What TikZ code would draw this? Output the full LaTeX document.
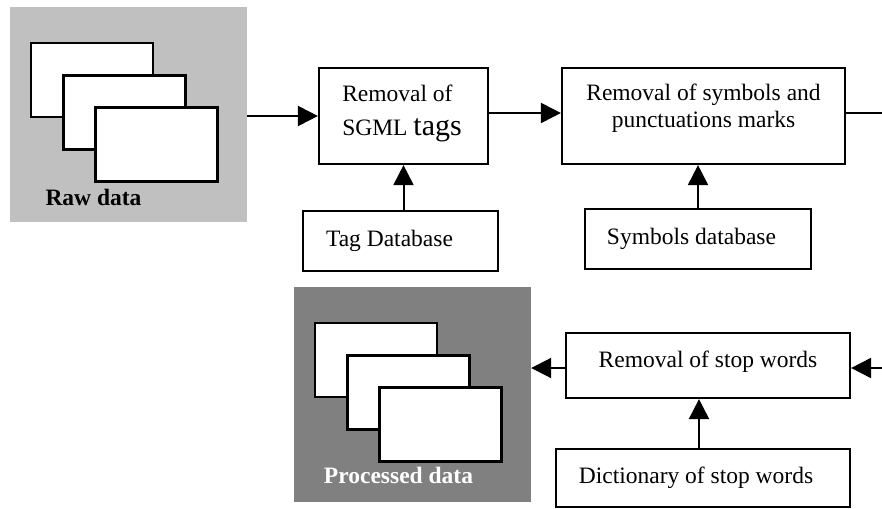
\documentclass[tikz,border=0pt]{standalone}
\usepackage{fontspec}
\setmainfont{Liberation Serif}
\usetikzlibrary{arrows.meta}

\definecolor{rawgray}{HTML}{C0C0C0}
\definecolor{procgray}{HTML}{808080}

\tikzset{
	store/.style={inner sep=0pt, minimum width=237pt, minimum height=215pt},
	sheet/.style={draw, fill=white, line width=2.2pt},
	stepbox/.style={draw, line width=2.2pt, inner sep=2pt, font=\fontsize{23.5}{27}\selectfont},
	storelbl/.style={anchor=base, inner sep=0pt, font=\fontsize{23.5}{27}\selectfont\bfseries},
	arr/.style={line width=2pt, -{Triangle[length=20pt,width=20pt]}}
}

\begin{document}
\begin{tikzpicture}[x=1pt,y=-1pt]
	\useasboundingbox (0,0) rectangle (882,508);

	% raw and processed data
	\node[store, fill=rawgray] (raw) at (128.5,114.5) {};
	\node[store, fill=procgray] (proc) at (412.5,394.5) {};
	\foreach \d in {0,32.5,64.5} {
		\draw[sheet] (31+\d,43+\d) rectangle ++(122,74);
		\draw[sheet] (315+\d,323+\d) rectangle ++(122,74);
	}
	\node[storelbl] (rawlbl) at (93.5,205) {Raw data};
	\node[storelbl, text=white] (proclbl) at (398.5,483) {Processed data};

	% steps
	\node[stepbox, minimum width=169pt, minimum height=96pt, align=left, text depth=12pt] (sgml) at (403.5,116)
		{Removal of\\[7pt]SGML {\fontsize{30}{30}\selectfont tags}\hspace*{3pt}};
	\node[stepbox, minimum width=283pt, minimum height=96pt, align=center, text depth=21pt] (sym) at (703.5,116)
		{Removal of symbols and\\punctuations marks};
	\node[stepbox, minimum width=284pt, minimum height=65pt, text depth=13pt] (stop) at (708,365.5)
		{Removal of stop words};

	% databases
	\node[stepbox, minimum width=195pt, minimum height=60pt] (tag) at (400.5,241) {Tag Database\hspace*{22pt}};
	\node[stepbox, minimum width=226pt, minimum height=60pt] (symdb) at (698,239) {Symbols database\hspace*{13pt}};
	\node[stepbox, minimum width=294pt, minimum height=58pt] (dict) at (703,478) {Dictionary of stop words\hspace*{14pt}};

	\coordinate (outr) at (882,113);
	\coordinate (inr) at (882,368);

	\draw[arr] (raw.east |- sgml.west) -- (sgml.west);
	\draw[arr] ([yshift=3pt]sgml.east) -- ([yshift=3pt]sym.west);
	\draw[line width=2pt] ([yshift=3pt]sym.east) -- (outr);
	\draw[arr] (inr) -- (inr -| stop.east);
	\draw[arr] (inr -| stop.west) -- (inr -| proc.east);
	\draw[arr] (sgml.south |- tag.north) -- (sgml.south);
	\draw[arr] (symdb.north) -- (symdb.north |- sym.south);
	\draw[arr] ([xshift=-4pt]dict.north) -- ([xshift=-4pt]dict.north |- stop.south);
\end{tikzpicture}
\end{document}
